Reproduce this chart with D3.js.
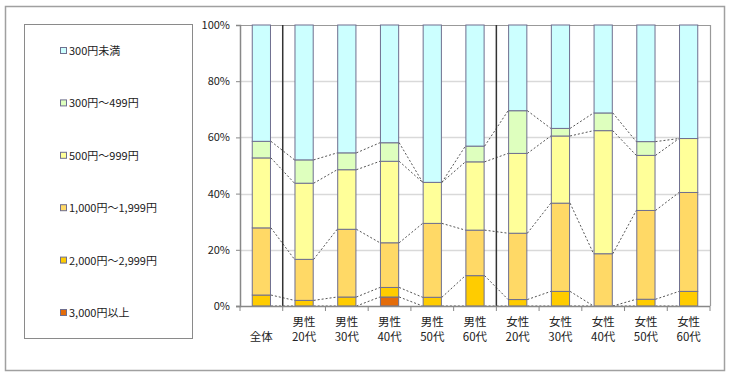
<!DOCTYPE html>
<html><head><meta charset="utf-8">
<script src="https://cdn.jsdelivr.net/npm/d3@7"></script>
<style>
html,body{margin:0;padding:0;background:#fff;}
text{font-family:"Noto Sans CJK JP","Noto Sans",sans-serif;fill:#222;}
</style></head>
<body><svg id="c" width="730" height="380"></svg>
<script>
// ---- data ----
const categories = ["全体","男性\n20代","男性\n30代","男性\n40代","男性\n50代","男性\n60代","女性\n20代","女性\n30代","女性\n40代","女性\n50代","女性\n60代"];
// series listed bottom (stack start) to top
const seriesNames = ["3,000円以上","2,000円～2,999円","1,000円～1,999円","500円～999円","300円～499円","300円未満"];
const s3000 = [0,0,0,3.2,0,0,0,0,0,0,0];
const s2000 = [3.9,2.0,3.2,3.4,3.1,10.8,2.3,5.2,0,2.4,5.2];
const s1000 = [23.9,14.6,24.1,15.9,26.3,16.2,23.6,31.4,18.6,31.6,35.2];
const s500  = [24.9,27.1,21.2,29.0,14.6,24.3,28.4,23.9,43.8,19.6,19.2];
const s300  = [5.9,8.3,6.0,6.6,0,5.6,15.2,2.7,6.3,4.9,0];
const sLow  = [41.4,48.0,45.5,41.9,56.0,43.1,30.5,36.8,31.3,41.5,40.4];
const seriesColors = ["#E46C0A","#FFCC00","#FFD966","#FFFF99","#DEFFBE","#CCFFFF"];
const yTicks = [0,20,40,60,80,100];
const separatorsBefore = [1,6];

const seriesValues = [s3000,s2000,s1000,s500,s300,sLow];
const rows = categories.map((c,i)=>{const r={cat:c}; seriesNames.forEach((s,j)=>r[s]=seriesValues[j][i]); return r;});

const svg = d3.select("#c");
// outer frame
svg.append("rect").attr("x",5.5).attr("y",6.5).attr("width",719).attr("height",364).attr("fill","#fff").attr("stroke","#a0a0a0").attr("stroke-width",1.5);
// legend box
svg.append("rect").attr("x",24.5).attr("y",24.5).attr("width",168).attr("height",314).attr("fill","#fff").attr("stroke","#8a8a8a");

const X0=240, X1=710, Y0=25, Y1=306;
const x = d3.scaleBand().domain(categories).range([X0,X1]).paddingInner(0.55).paddingOuter(0.275);
const y = d3.scaleLinear().domain([0,100]).range([Y1,Y0]);
const bw = x.bandwidth();
const gap = (x.step()-bw)/2;

// gridlines
svg.append("g").selectAll("line").data(yTicks.filter(t=>t>0&&t<100)).join("line")
  .attr("x1",X0).attr("x2",X1).attr("y1",d=>Math.round(y(d))+0.5).attr("y2",d=>Math.round(y(d))+0.5)
  .attr("stroke","#d9d9d9").attr("stroke-width",1.5);

// plot border top/right
svg.append("path").attr("d",`M${X0},${Y0+0.5}H${X1+0.5}V${Y1}`).attr("fill","none").attr("stroke","#999").attr("stroke-width",1.2);

const stack = d3.stack().keys(seriesNames);
const layers = stack(rows);

// bars
const gBars = svg.append("g");
layers.forEach((layer,j)=>{
  gBars.selectAll(null).data(layer.filter(d=>d[1]-d[0]>0)).join("rect")
    .attr("x",d=>x(d.data.cat)+0.5).attr("width",bw-1)
    .attr("y",d=>y(d[1])).attr("height",d=>y(d[0])-y(d[1]))
    .attr("fill",seriesColors[j]).attr("stroke","#6f6f8f").attr("stroke-width",1);
});

// series lines
const gLines = svg.append("g");
layers.slice(0,layers.length-1).forEach(layer=>{
  for(let i=0;i<layer.length-1;i++){
    const a=layer[i], b=layer[i+1];
    gLines.append("line")
      .attr("x1",x(a.data.cat)+bw).attr("y1",y(a[1]))
      .attr("x2",x(b.data.cat)).attr("y2",y(b[1]))
      .attr("stroke","#555").attr("stroke-width",1).attr("stroke-dasharray","2,2");
  }
});

// separators
svg.append("g").selectAll("line").data(separatorsBefore).join("line")
  .attr("x1",i=>x(categories[i])-gap).attr("x2",i=>x(categories[i])-gap)
  .attr("y1",Y0).attr("y2",Y1).attr("stroke","#333").attr("stroke-width",1.5);

// y axis
const yAxis = d3.axisLeft(y).tickValues(yTicks).tickFormat(d=>d+"%").tickSize(4).tickPadding(6);
const gy = svg.append("g").attr("transform",`translate(${X0},0)`).call(yAxis);
gy.select(".domain").attr("stroke","#888").attr("stroke-width",1.5);
gy.selectAll(".tick line").attr("stroke","#888");
gy.selectAll("text").style("font-size","11px").attr("fill","#222");

// x axis line + ticks at boundaries
svg.append("line").attr("x1",X0-4).attr("x2",X1).attr("y1",Y1+0.5).attr("y2",Y1+0.5).attr("stroke","#888").attr("stroke-width",1.5);
const bounds = d3.range(categories.length+1).map(i=>X0+i*x.step());
svg.append("g").selectAll("line").data(bounds).join("line")
  .attr("x1",d=>d).attr("x2",d=>d).attr("y1",Y1).attr("y2",Y1+5).attr("stroke","#888");

// category labels
const gl = svg.append("g");
categories.forEach(c=>{
  const parts=c.split("\n");
  const cx=x(c)+bw/2;
  if(parts.length===1){
    gl.append("text").attr("x",cx).attr("y",341).attr("text-anchor","middle").style("font-size","11.5px").text(parts[0]);
  } else {
    gl.append("text").attr("x",cx).attr("y",326).attr("text-anchor","middle").style("font-size","11.5px").text(parts[0]);
    gl.append("text").attr("x",cx).attr("y",341).attr("text-anchor","middle").style("font-size","11.5px").text(parts[1]);
  }
});

// legend (top to bottom reversed order)
const legendItems = seriesNames.map((n,j)=>({name:n,color:seriesColors[j]})).reverse();
const lg = svg.append("g");
legendItems.forEach((d,i)=>{
  const cy = 51 + i*52.4;
  lg.append("rect").attr("x",60.5).attr("y",cy-3.5).attr("width",6).attr("height",6).attr("fill",d.color).attr("stroke","#6f6f8f");
  lg.append("text").attr("x",69).attr("y",cy+4).style("font-size","11px").text(d.name);
});
</script></body></html>
